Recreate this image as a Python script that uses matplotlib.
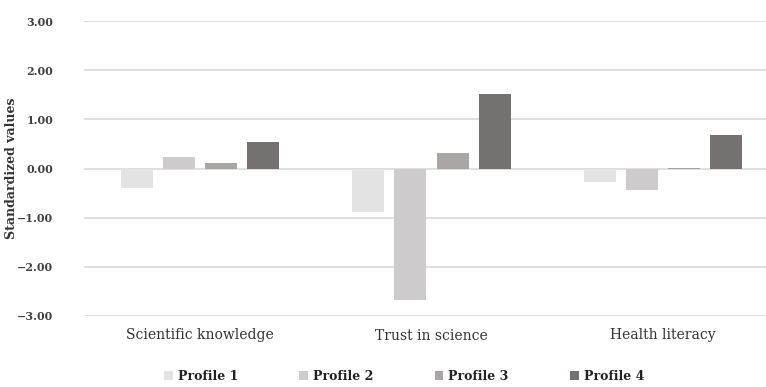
import numpy as np
import matplotlib.pyplot as plt

# Datos
categorias = ['Scientific knowledge', 'Trust in science', 'Health literacy']
perfiles = ['Profile 1', 'Profile 2', 'Profile 3', 'Profile 4']
profile1 = [-0.39, -0.88, -0.27]
profile2 = [0.24, -2.67, -0.44]
profile3 = [0.12, 0.32, 0.01]
profile4 = [0.54, 1.52, 0.69]
valores = [profile1, profile2, profile3, profile4]
colores = ['#e3e3e3', '#cdcbcb', '#aaa6a6', '#767171']

plt.rcParams['font.family'] = ['DejaVu Serif']

fig = plt.figure(figsize=(7.66, 3.87), dpi=100)
ax = fig.add_axes([84 / 766, 71 / 387, 695 / 766, 295 / 387])

x = np.arange(len(categorias))
ancho = 0.138
paso = 0.182
for i, (nombre, vals) in enumerate(zip(perfiles, valores)):
    ax.bar(x + (i - 1.5) * paso, vals, ancho, color=colores[i], label=nombre, zorder=3)

ax.set_xlim(-0.5, 2.5)
ax.set_ylim(-3, 3)
ax.set_yticks(np.arange(-3, 4, 1))
ax.set_yticklabels([f'{v:.2f}'.replace('-', '\u2212') for v in np.arange(-3, 4, 1)],
                   fontsize=8, fontweight='bold', color='#404040')
ax.set_xticks(x)
ax.set_xticklabels(categorias, fontsize=10, color='#333333')
ax.tick_params(axis='both', length=0)
ax.tick_params(axis='y', pad=22)
ax.tick_params(axis='x', pad=9)
ax.grid(axis='y', color='#d9d9d9', linewidth=1.2, zorder=0)
for s in ax.spines.values():
    s.set_visible(False)

ax.set_ylabel('Standardized values', fontsize=9, fontweight='bold', color='#333333')
ax.yaxis.set_label_coords(-66 / 695, 0.5)

leg = fig.legend(loc='center', bbox_to_anchor=(404 / 766, 11 / 387), ncol=4, frameon=False,
                 prop={'size': 9, 'weight': 'bold'}, handlelength=0.7, handleheight=0.7,
                 handletextpad=0.4, columnspacing=4.9, borderpad=0.1)
for t in leg.get_texts():
    t.set_color('#222222')

plt.savefig('out.png', dpi=100)
